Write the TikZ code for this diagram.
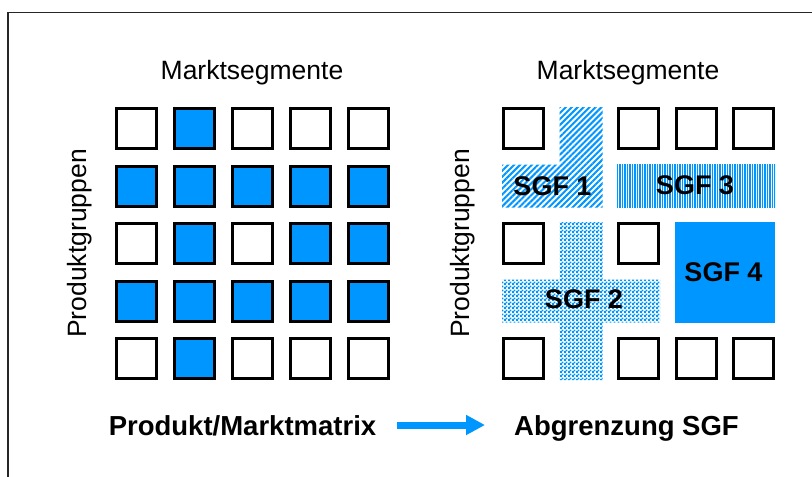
\documentclass[tikz,border=0pt]{standalone}
\usepackage{fontspec}
\setmainfont{Liberation Sans}
\usetikzlibrary{patterns,patterns.meta,arrows.meta}

\definecolor{sgfblue}{RGB}{0,150,255}

% fine checkerboard used for the cross-shaped business field
\pgfdeclarepattern{
  name=finecheck,
  type=uncolored,
  bottom left={\pgfpoint{0pt}{0pt}},
  top right={\pgfpoint{4pt}{4pt}},
  tile size={\pgfpoint{4pt}{4pt}},
  code={
    \pgfpathrectangle{\pgfpointorigin}{\pgfpoint{2.2pt}{2.2pt}}
    \pgfpathrectangle{\pgfpoint{2pt}{2pt}}{\pgfpoint{2.2pt}{2.2pt}}
    \pgfusepath{fill}
  }
}

\tikzset{
  cell/.style={draw=black, line width=3pt, minimum size=40pt, inner sep=0pt, fill=white},
  cellon/.style={cell, fill=sgfblue},
  heading/.style={font=\fontsize{26.5}{30}\selectfont, anchor=base, inner sep=0pt},
  caption/.style={font=\fontsize{27.5}{32}\selectfont\bfseries, anchor=base, inner sep=0pt},
  sgflabel/.style={font=\fontsize{27}{30}\selectfont\bfseries, anchor=base, inner sep=0pt},
  frameline/.style={line width=1.5pt, draw=black!85},
}

\begin{document}
\begin{tikzpicture}[x=1pt, y=-1pt]
\useasboundingbox (0,0) rectangle (812,477);

% open frame
\draw[frameline] (8,477) -- (8,12.5) -- (812,12.5);

% ---------- left: product / market matrix ----------
\node[heading] (mkL) at (252,79) {Marktsegmente};
\node[heading, rotate=90] (pgL) at (86,243.5) {Produktgruppen};

\foreach \r/\y in {1/128.5,2/186,3/243.5,4/301,5/358.5}{
  \foreach \c/\x in {1/136.5,2/194.5,3/252.5,4/310.5,5/368.5}{
    \node[cell] (L\r\c) at (\x,\y) {};
  }
}
% occupied cells
\foreach \r/\c in {1/2, 2/1,2/2,2/3,2/4,2/5, 3/2,3/4,3/5, 4/1,4/2,4/3,4/4,4/5, 5/2}{
  \node[cellon] at (L\r\c) {};
}

% ---------- right: strategic business fields ----------
\node[heading] (mkR) at (628,79) {Marktsegmente};
\node[heading, rotate=90] (pgR) at (469,243.5) {Produktgruppen};

% remaining single cells
\foreach \n/\x/\y in {a/523.5/128.5, b/638.5/128.5, c/696/128.5, d/753.5/128.5,
                      e/523.5/243.5, f/638.5/243.5,
                      g/523.5/358.5, h/638.5/358.5, i/696/358.5, j/753.5/358.5}{
  \node[cell] (R\n) at (\x,\y) {};
}

% SGF 1: L-shape, diagonal stripes
\fill[pattern={Lines[angle=45, distance=4.2pt, line width=2pt]}, pattern color=sgfblue]
  (559.5,107) -- (602.5,107) -- (602.5,207.5) -- (502,207.5) -- (502,164.5) -- (559.5,164.5) -- cycle;
% SGF 3: band, fine vertical lines
\fill[pattern={Lines[angle=90, distance=2.5pt, line width=1.4pt]}, pattern color=sgfblue]
  (617,164.5) rectangle (775,207.5);
% SGF 2: cross, fine checkerboard
\fill[pattern=finecheck, pattern color=sgfblue]
  (559.5,222) -- (602.5,222) -- (602.5,279.5) -- (660,279.5) -- (660,322.5) -- (602.5,322.5)
  -- (602.5,380) -- (559.5,380) -- (559.5,322.5) -- (502,322.5) -- (502,279.5) -- (559.5,279.5) -- cycle;
% SGF 4: solid block
\fill[sgfblue] (674.5,222) rectangle (775,322.5);

\node[sgflabel] (s1) at (552.5,195) {SGF 1};
\node[sgflabel] (s3) at (695,194) {SGF 3};
\node[sgflabel] (s2) at (584,308) {SGF 2};
\node[sgflabel] (s4) at (723.5,281) {SGF 4};

% ---------- captions and arrow ----------
\node[caption] (capL) at (242.5,435) {Produkt/Marktmatrix};
\node[caption] (capR) at (626.5,435) {Abgrenzung SGF};

\coordinate (arS) at (397,425);
\coordinate (arE) at (485,425);
\draw[sgfblue, line width=7pt, -{Triangle[length=19pt, width=19pt]}] (arS) -- (arE);
\end{tikzpicture}
\end{document}
